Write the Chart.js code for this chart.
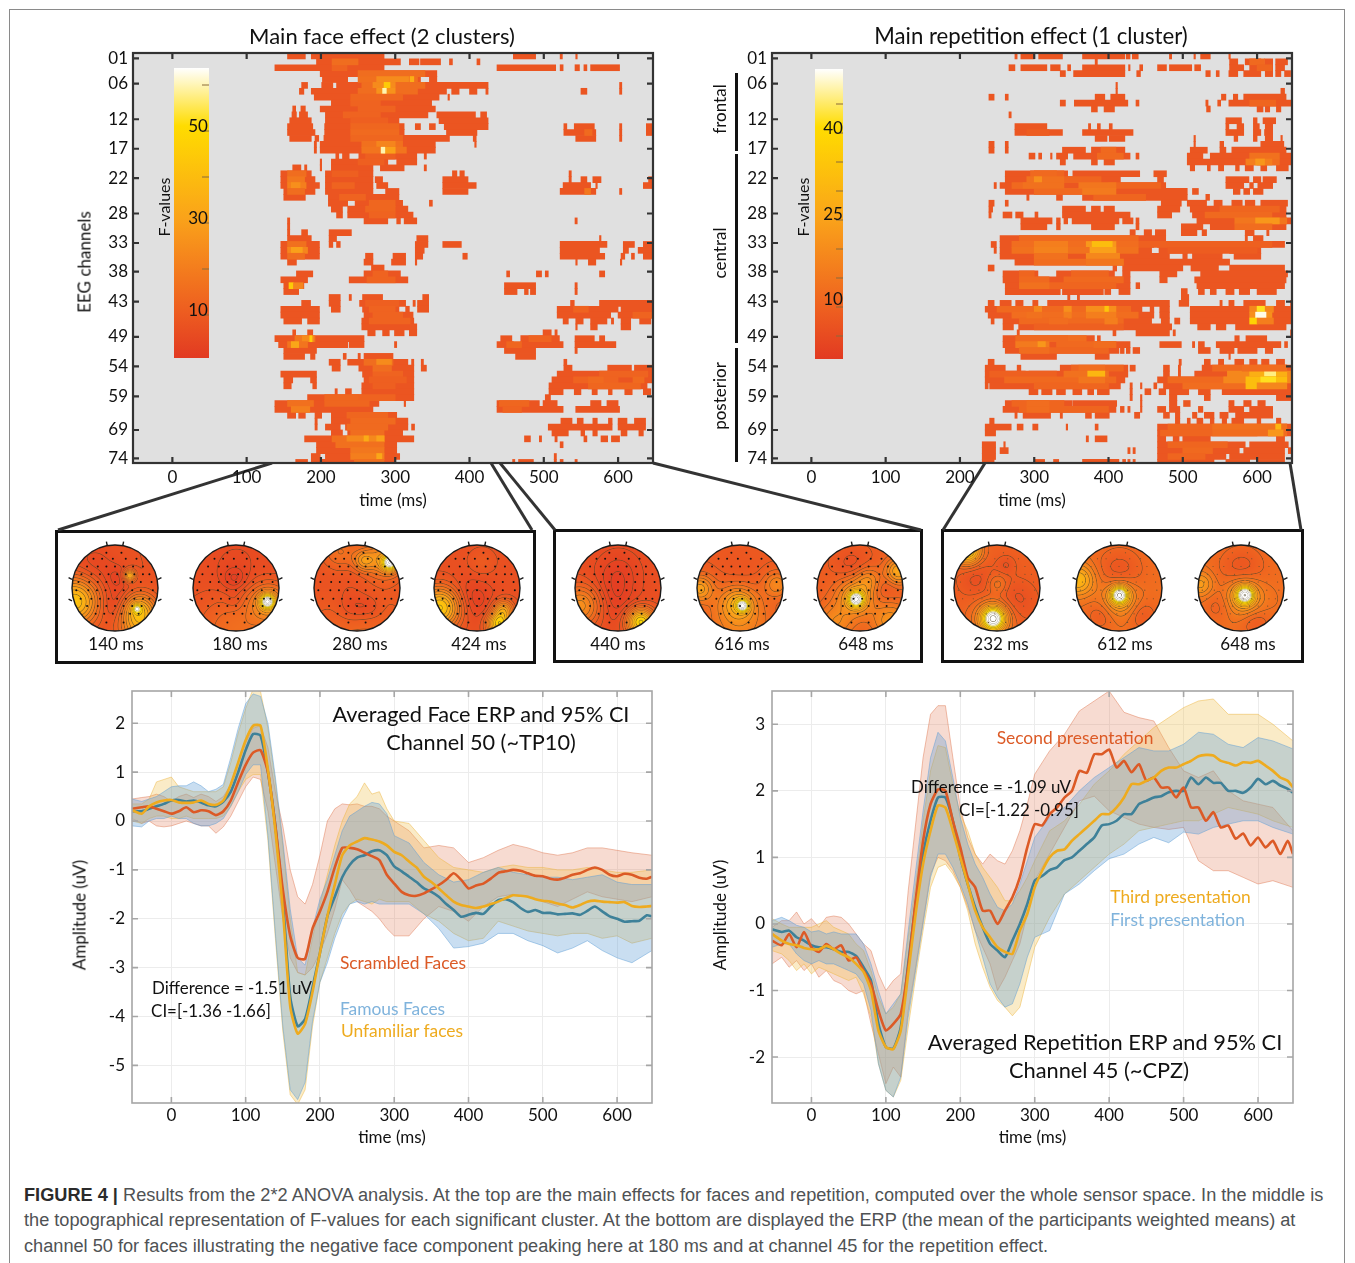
<!DOCTYPE html>
<html>
<head>
<meta charset="utf-8">
<title>Figure 4</title>
<script src="https://cdn.jsdelivr.net/npm/chart.js@4/dist/chart.umd.min.js"></script>
<style>
  html, body { margin: 0; padding: 0; background: #fff; }
  #page { position: relative; width: 1355px; height: 1263px; overflow: hidden; font-family: Lato, sans-serif; color: #111; }
  #page canvas { position: absolute; }
  .txt { position: absolute; white-space: nowrap; transform: translate(-50%, -50%); }
  .box { position: absolute; border: 3px solid #111; box-sizing: border-box; }
  .cap { position: absolute; left: 24px; white-space: nowrap; font-family: "Liberation Sans", Arial, sans-serif; font-size: 18.18px; color: #4f5254; }
  .cap b { color: #2b2b2b; }
  #frame { position: absolute; left: 9px; top: 9px; width: 1336px; height: 1270px; border: 1px solid #8a8a8a; box-sizing: border-box; }
  #links { position: absolute; left: 0; top: 0; }
</style>
</head>
<body>
<div id="page">
  <div id="frame"></div>
  <div class="box" style="left:55px;top:530px;width:481px;height:134px"></div>
  <div class="box" style="left:553px;top:529px;width:370px;height:134px"></div>
  <div class="box" style="left:941px;top:529px;width:363px;height:134px"></div>
  <svg id="links" width="1355" height="540">
    <g stroke="#333" stroke-width="3" fill="none">
      <line x1="272" y1="463" x2="58" y2="530"/>
      <line x1="491" y1="463" x2="532" y2="530"/>
      <line x1="500" y1="463" x2="555" y2="530"/>
      <line x1="653" y1="463" x2="921" y2="530"/>
      <line x1="985" y1="463" x2="943" y2="530"/>
      <line x1="1290" y1="463" x2="1301" y2="530"/>
    </g>
  </svg>
  <div class="cap" style="top:1185px"><b>FIGURE 4 |</b> Results from the 2*2 ANOVA analysis. At the top are the main effects for faces and repetition, computed over the whole sensor space. In the middle is</div>
  <div class="cap" style="top:1210px">the topographical representation of F-values for each significant cluster. At the bottom are displayed the ERP (the mean of the participants weighted means) at</div>
  <div class="cap" style="top:1236px">channel 50 for faces illustrating the negative face component peaking here at 180 ms and at channel 45 for the repetition effect.</div>
</div>

<script>
// axis ticks
const timeTicks = [0, 100, 200, 300, 400, 500, 600];
const channelLabels = ['01', '06', '12', '17', '22', '28', '33', '38', '43', '49', '54', '59', '69', '74'];
const channelTicks = [1.4, 5.7, 11.75, 16.75, 21.75, 27.75, 32.75, 37.6, 42.7, 48.7, 53.7, 58.8, 64.5, 69.3];
const faceAmpTicks = [-5, -4, -3, -2, -1, 0, 1, 2];
const repAmpTicks = [-2, -1, 0, 1, 2, 3];

// significant runs per EEG row, [start ms, end ms]
const faceRows = [
  [[155,179],[187,285],[459,489],[522,525],[543,545]],
  [[194,307],[319,332],[334,361],[373,377],[410,414]],
  [[138,285],[437,516],[522,526],[542,548],[554,558],[563,602]],
  [[199,356]],
  [[202,236],[251,334],[346,356]],
  [[174,182],[201,216],[221,425],[602,605]],
  [[171,177],[187,369],[376,386],[400,410],[422,425],[550,558],[602,605]],
  [[191,359],[371,373]],
  [[214,349]],
  [[162,166],[173,179],[199,354]],
  [[161,167],[171,182],[206,344],[356,408],[415,423]],
  [[158,187],[206,305],[359,425]],
  [[155,189],[205,312],[327,334],[346,354],[366,425],[527,531],[541,568],[602,605],[638,649]],
  [[155,192],[205,312],[369,410],[527,570],[602,605],[638,649]],
  [[158,187],[192,197],[204,373],[405,409],[543,570],[602,605]],
  [[191,194],[199,354],[407,409]],
  [[191,194],[199,354]],
  [[220,224],[229,238],[251,329],[339,342]],
  [[199,201],[214,290],[302,329]],
  [[162,173],[178,181],[199,201],[214,270],[280,312],[339,342]],
  [[146,187],[206,270],[377,383],[387,393],[534,537]],
  [[146,192],[206,270],[273,283],[364,398],[534,537],[550,558],[566,577],[641,649]],
  [[146,198],[206,270],[275,290],[364,409],[526,563],[570,572],[634,649]],
  [[150,192],[206,270],[287,305],[364,398],[522,570],[602,605]],
  [[150,179],[210,305]],
  [[210,236],[246,310],[346,350]],
  [[214,229],[236,317]],
  [[221,229],[236,324]],
  [[155,158],[258,290],[302,307],[312,329],[542,545]],
  [[155,158]],
  [[155,158],[174,182],[211,241]],
  [[155,187],[211,221],[329,344],[575,577]],
  [[146,198],[211,216],[221,226],[327,344],[364,389],[522,585],[607,622],[634,649]],
  [[146,198],[327,339],[522,575],[607,614],[627,646]],
  [[146,198],[260,270],[297,314],[327,337],[391,397],[522,582],[604,609],[618,622],[634,649]],
  [[155,167],[258,270],[295,314],[327,329],[543,545],[560,570],[603,605]],
  [[268,285]],
  [[167,189],[258,307],[450,454],[490,497],[502,506],[575,582]],
  [[146,182],[238,317]],
  [[150,177],[447,489],[542,545]],
  [[150,170],[447,464],[474,479],[482,489],[542,545]],
  [[211,226],[238,241],[256,283],[337,345]],
  [[174,186],[211,226],[252,314],[324,327],[330,345],[536,541],[575,649]],
  [[146,198],[214,226],[256,305],[314,319],[330,345],[518,600],[604,649]],
  [[146,198],[258,324],[518,590],[600,649]],
  [[150,174],[182,198],[255,325],[526,533],[543,553],[563,585],[591,594],[604,617],[629,644],[646,649]],
  [[255,329],[543,545],[563,572],[604,617]],
  [[162,166],[182,189],[263,273],[283,292],[299,312],[319,329],[499,510],[515,518]],
  [[138,258],[442,457],[469,521],[542,568],[575,582]],
  [[143,236],[238,258],[299,302],[437,459],[469,526],[542,597]],
  [[150,194],[447,489],[542,545]],
  [[150,178],[186,192],[230,234],[250,253],[258,297],[462,489]],
  [[211,226],[236,317],[322,325],[335,338],[527,531]],
  [[215,226],[251,325],[335,342],[527,538],[586,618],[622,649]],
  [[146,194],[256,325],[518,649]],
  [[150,162],[186,194],[258,325],[511,649]],
  [[150,160],[189,194],[255,325],[507,639]],
  [[219,222],[233,241],[255,325],[507,526],[541,550],[565,572],[587,592],[609,619],[634,644]],
  [[182,325],[502,509]],
  [[138,278],[312,314],[437,494],[499,518],[563,577],[585,600]],
  [[138,270],[437,526],[543,602]],
  [[155,166],[170,179],[192,201],[214,302]],
  [[192,195],[214,317],[523,538],[545,553],[566,572],[587,592],[600,612],[622,637],[646,649]],
  [[192,195],[206,226],[233,317],[322,326],[506,592],[600,637],[646,649]],
  [[214,229],[236,310],[511,533],[550,555],[566,572],[604,612],[628,634]],
  [[178,325],[474,482],[494,497],[515,518],[554,558],[577,586],[591,602]],
  [[194,302],[522,526]],
  [[194,302]],
  [[187,199],[206,306],[514,517]],
  [[166,182],[187,300],[458,461],[466,486],[514,517],[522,526],[542,545]]
];

const repRows = [
  [[274,277],[282,300],[306,338],[365,422],[424,429],[432,440],[482,485],[515,517],[524,537],[562,564]],
  [[382,385],[563,574],[584,605],[610,621],[625,641]],
  [[266,274],[282,317],[322,335],[345,349],[365,422],[427,429],[442,446],[466,478],[482,512],[516,524],[563,582],[590,621],[625,637]],
  [[335,342],[353,422],[438,443],[531,537],[545,549],[562,574],[582,605],[611,621],[625,632],[637,645]],
  [],
  [[410,412]],
  [[410,412],[632,637]],
  [[239,246],[261,265],[382,395],[403,422],[552,558],[568,574],[582,639]],
  [[335,342],[354,426],[437,441],[531,534],[547,551],[562,648]],
  [[377,385],[394,408],[532,537],[600,608],[611,617],[626,632]],
  [[266,269]],
  [[558,579],[595,600],[608,625]],
  [[274,317],[373,376],[385,389],[401,405],[558,562],[573,582],[595,603],[611,621]],
  [[274,338],[365,433],[558,582],[595,605],[610,621]],
  [[382,398],[401,422],[515,517],[569,574],[595,600],[611,621],[632,634]],
  [[239,246],[261,265],[515,517],[550,555],[605,636]],
  [[239,246],[261,265],[338,369],[377,422],[510,533],[550,558],[566,639]],
  [[293,301],[306,310],[322,324],[330,345],[353,429],[437,441],[506,527],[537,648]],
  [[335,342],[377,385],[394,408],[506,648]],
  [[510,516],[533,537],[548,555],[571,576],[584,595],[605,613],[626,642]],
  [[261,345],[352,442],[461,478]],
  [[261,416],[466,474],[558,589],[595,605],[608,626]],
  [[246,249],[254,477],[558,582],[590,595],[601,621]],
  [[261,506],[513,521],[568,577],[582,590],[595,608]],
  [[290,293],[330,338],[365,506],[531,536]],
  [[239,246],[261,265],[471,498],[506,532],[542,553],[566,580],[584,597],[605,641]],
  [[239,244],[338,369],[377,389],[394,408],[466,496],[510,639]],
  [[239,242],[258,270],[275,285],[301,305],[338,429],[466,485],[513,639]],
  [[282,324],[330,335],[340,345],[351,414],[419,433],[437,441],[519,648]],
  [[282,317],[330,335],[377,408],[437,441],[498,527],[537,639]],
  [[429,436],[448,458],[463,477],[498,519],[526,532],[584,596],[613,616]],
  [[254,477],[584,587],[595,608]],
  [[242,249],[254,461],[466,479],[513,537],[574,637]],
  [[246,249],[254,458],[468,506],[513,553],[563,605]],
  [[254,482],[500,506],[513,553],[569,605]],
  [[274,563]],
  [[238,246],[406,411],[419,500],[511,548],[563,637]],
  [[258,305],[330,408],[419,429],[469,492],[524,641]],
  [[258,429],[469,479],[516,639]],
  [[261,429],[437,442],[519,637]],
  [[261,335],[338,393],[395,403],[414,429],[498,506],[521,529],[537,545],[558,569],[576,590],[600,626]],
  [[345,348],[358,361],[498,508]],
  [[238,246],[254,269],[275,285],[298,305],[318,482],[495,508],[550,553],[562,569],[582,611],[626,637],[645,648]],
  [[234,445],[456,461],[469,482],[510,648]],
  [[238,461],[469,482],[510,648]],
  [[242,246],[258,458],[471,482],[489,496],[510,648]],
  [[258,272],[279,485],[520,537],[545,558],[571,639]],
  [[277,280],[406,410],[437,482],[487,490],[645,648]],
  [[258,381],[385,389],[570,576],[585,613]],
  [[258,429],[469,498],[513,516],[521,529],[545,632],[637,641]],
  [[261,414],[416,421],[424,429],[433,442],[521,537],[550,569],[574,600],[611,621]],
  [[282,330],[382,401],[562,564]],
  [[238,246],[495,498],[529,537],[548,555],[570,582],[590,600],[606,616],[626,637]],
  [[234,261],[277,282],[335,426],[429,436],[474,482],[494,497],[526,648]],
  [[234,288],[293,426],[474,482],[494,497],[516,648]],
  [[234,422],[466,648]],
  [[234,238],[240,416],[429,432],[443,445],[461,465],[474,648]],
  [[293,305],[310,324],[330,342],[352,364],[372,380],[385,401],[429,432],[449,457],[468,477],[482,508],[521,537],[553,648]],
  [[429,432],[443,445],[482,492],[529,537],[626,648]],
  [[261,351],[352,411],[443,445],[482,492],[501,510],[562,569],[582,592],[601,611]],
  [[258,410],[416,421],[426,429],[443,445],[466,477],[482,496],[521,527],[562,582],[590,621]],
  [[274,277],[285,322],[335,338],[369,377],[382,401],[435,442],[474,482],[490,496],[513,519],[529,542],[550,561],[571,621]],
  [[240,246],[490,496],[506,510],[519,527],[537,542],[553,559],[566,582],[600,605],[626,632]],
  [[234,269],[277,285],[298,305],[343,345],[382,386],[466,648]],
  [[234,248],[466,648]],
  [[370,373],[382,398],[466,477],[487,495],[500,537],[626,637]],
  [[230,248],[259,261],[466,584],[590,642]],
  [[230,248],[254,265],[426,429],[433,436],[466,576],[582,637],[642,648]],
  [[230,248],[466,558],[563,637]],
  [[230,246],[301,314],[326,333],[365,414],[419,423],[426,429],[433,436],[466,542],[558,590],[600,637]]
];

// stronger patches on top of the runs: [row, start ms, end ms, F]
const faceHot = [
  [3,215,235,12],[9,240,280,12],[10,250,300,12],[11,230,280,12],[12,240,290,11],[18,260,300,11],[19,250,285,11],[21,215,250,11],
  [23,215,245,12],[25,225,260,12],[26,265,300,13],[27,260,300,13],[28,265,300,12],[39,262,300,12],[38,270,290,12],[43,260,305,11],
  [44,265,300,12],[45,270,310,12],[46,265,320,12],[55,270,310,12],[56,265,315,11],[57,270,300,11],[59,240,300,12],[62,235,290,13],
  [63,240,300,14],[55,575,640,12],[56,540,600,12],[57,560,630,13],[44,540,560,12],[45,620,648,12],[49,480,510,12],[50,450,470,13],
  [60,440,480,13],[61,445,470,12],
  [2,215,250,15],[4,250,340,15],[5,250,330,16],[5,275,318,24],[5,320,325,35],[6,255,340,15],[6,270,300,24],[6,285,293,45],
  [7,250,330,15],[7,275,300,26],[7,283,288,60],[8,240,310,13],[13,240,305,13],[14,240,305,14],[15,240,310,13],
  [16,255,310,16],[16,275,300,22],[17,255,315,17],[17,283,300,30],[17,281,286,60],[21,155,180,15],[22,155,178,18],
  [23,155,180,20],[23,160,172,25],[24,155,178,15],[33,155,180,16],[34,155,182,22],[34,160,175,30],[35,155,178,15],
  [40,157,163,45],[40,163,176,22],[49,165,192,18],[49,175,190,24],[49,185,188,46],[50,155,182,17],[50,160,170,32],
  [53,258,297,15],[53,275,295,24],[54,270,295,15],[60,155,190,16],[61,160,185,20],[59,205,250,13],[60,205,265,13],
  [64,235,290,14],[65,240,285,15],[66,215,285,16],[66,235,285,23],[66,258,264,34],[66,275,285,30],[67,220,285,16],
  [68,240,285,18],[69,240,285,20],[69,275,282,32],[70,245,285,16],[14,555,565,14],[24,555,563,18],[56,560,580,14],[56,620,635,14]
];
const repHot = [
  [2,590,610,11],[3,600,620,10],[9,590,625,10],[14,290,320,8],[17,390,410,11],[18,385,420,11],[19,600,630,12],[21,300,340,10],
  [22,340,390,10],[23,270,300,11],[23,400,470,10],[24,300,400,11],[25,380,450,10],[27,550,630,10],[28,530,620,11],[32,280,440,11],
  [36,300,420,12],[38,280,300,10],[38,350,400,10],[39,340,420,11],[40,300,410,10],[44,250,430,11],[45,270,440,12],[46,280,420,11],
  [47,300,420,9],[49,280,370,12],[50,330,410,11],[51,290,400,10],[54,350,420,10],[55,240,330,9],[56,260,410,11],[57,300,400,10],
  [56,480,560,11],[57,500,640,12],[54,540,640,11],[60,270,340,10],[61,280,400,10],[64,480,640,10],[65,470,600,10],[33,440,620,9],[34,480,600,8],
  [21,295,330,11],[22,290,340,13],[22,300,310,20],[23,285,340,13],[23,360,410,14],[24,365,410,15],[33,270,440,12],[33,300,345,16],
  [33,370,410,22],[33,378,405,32],[34,270,440,13],[34,300,345,17],[34,375,410,24],[35,300,345,13],[35,370,415,18],[36,370,420,14],
  [39,280,320,11],[40,280,320,13],[18,590,630,13],[19,585,620,16],[19,598,610,22],[29,570,640,14],[29,598,630,22],[30,570,620,12],
  [44,300,310,18],[44,340,350,20],[44,370,410,20],[44,395,400,34],[45,290,310,13],[45,340,350,16],[45,370,410,16],[46,320,345,12],
  [46,395,412,16],[44,590,622,18],[44,600,610,42],[45,590,620,20],[45,598,612,50],[46,590,600,38],[46,600,622,16],
  [49,275,345,11],[50,275,320,15],[50,305,315,22],[51,280,320,12],[50,380,410,12],[54,360,395,12],
  [55,340,400,13],[55,372,395,30],[56,360,395,14],[55,560,647,18],[55,590,640,28],[55,610,625,46],[56,555,647,18],[56,585,640,32],
  [56,605,625,42],[57,585,600,32],[57,600,640,18],[54,580,640,12],[60,290,320,12],[61,290,320,12],[64,540,640,13],
  [64,625,632,30],[65,540,640,12],[65,615,635,22],[67,480,560,10],[68,500,540,11],[69,480,530,10]
];

// ERP means, sampled at meanTimes
const meanTimes = [-53,-40,-30,-20,-10,0,10,20,30,40, 50,60,70,80,90,100,110,120,130,140, 150,160,170,180,190,200,210,220,230,240,
  250,260,270,280,290,300,310,320,330,340, 350,360,370,380,390,400,410,420,430,440, 450,460,470,480,490,500,510,520,530,540,
  550,560,570,580,590,600,610,620,630,640, 647];
const famousMean = [.2,.2,.25,.3,.35,.42,.43,.4,.42,.38, .32,.3,.4,.6,1,1.45,1.78,1.75,1,-.1, -1.6,-3.6,-4.2,-4.05,-3.4,-2.7,-1.95,-1.55,-1.15,-.9,
  -.75,-.7,-.62,-.6,-.7,-.93,-1.03,-1.14,-1.25,-1.38, -1.45,-1.55,-1.7,-1.82,-1.96,-1.92,-1.88,-1.9,-1.75,-1.62, -1.6,-1.66,-1.78,-1.86,-1.82,-1.88,-1.88,-1.91,-1.9,-1.89,
  -1.92,-1.84,-1.75,-1.85,-1.95,-2,-2.06,-2.05,-2.04,-1.93, -1.95];
const unfamiliarMean = [.22,.15,.3,.38,.42,.43,.38,.37,.38,.42, .35,.33,.42,.75,1.2,1.65,1.95,1.95,1.05,-.2, -1.8,-3.8,-4.35,-4.15,-3.5,-2.7,-1.95,-1.3,-.7,-.5,
  -.42,-.35,-.38,-.42,-.5,-.63,-.7,-.83,-.95,-1.14, -1.25,-1.38,-1.52,-1.65,-1.72,-1.75,-1.78,-1.75,-1.7,-1.65, -1.58,-1.52,-1.53,-1.55,-1.6,-1.63,-1.65,-1.69,-1.72,-1.77,
  -1.72,-1.65,-1.63,-1.65,-1.66,-1.67,-1.66,-1.74,-1.76,-1.75, -1.74];
const scrambledMean = [.25,.28,.3,.25,.2,.15,.2,.28,.18,.22, .2,.12,.2,.42,.8,1.15,1.4,1.45,1,-.1, -1.4,-2.35,-2.8,-2.82,-2.2,-1.85,-1.45,-.95,-.55,-.55,
  -.58,-.65,-.72,-.8,-1.1,-1.28,-1.45,-1.52,-1.53,-1.48, -1.4,-1.31,-1.2,-1.07,-1.2,-1.38,-1.32,-1.28,-1.18,-1.06, -1.03,-1,-1.02,-1.07,-1.12,-1.13,-1.18,-1.2,-1.16,-1.1,
  -1.07,-1,-.95,-1,-1.1,-1.13,-1.08,-1.1,-1.16,-1.18, -1.14];
const firstMean = [-.08,-.12,-.1,-.2,-.25,-.32,-.35,-.35,-.38,-.42, -.42,-.48,-.65,-.85,-1.5,-1.85,-1.87,-1.55,-.6,.3, 1.05,1.55,1.9,1.9,1.55,1,.6,.25,-.05,-.3,
  -.4,-.5,-.25,0,.3,.65,.72,.81,.85,.96, 1,1.1,1.2,1.3,1.48,1.5,1.55,1.65,1.65,1.8, 1.85,1.9,1.92,1.98,2,2,2.2,2.1,2.2,2.12,
  2.12,2,2,1.97,2.05,2.18,2.1,2.15,2.08,2.03, 1.97];
const thirdMean = [-.15,-.25,-.3,-.32,-.36,-.38,-.38,-.33,-.38,-.45, -.5,-.6,-.72,-1,-1.6,-1.85,-1.88,-1.6,-.75,.15, .9,1.4,1.78,1.75,1.4,1,.6,.2,-.05,-.2,
  -.35,-.42,-.45,-.1,.15,.55,.8,1,1.1,1.12, 1.25,1.35,1.45,1.55,1.65,1.65,1.75,1.9,2.1,2.1, 2.15,2.2,2.3,2.35,2.35,2.4,2.45,2.52,2.54,2.53,
  2.45,2.42,2.38,2.43,2.42,2.45,2.38,2.3,2.2,2.15, 2.05];
const secondMean = [-.25,-.32,-.15,-.35,-.12,-.35,-.42,-.3,-.38,-.32, -.55,-.5,-.7,-.9,-1.3,-1.6,-1.5,-1.35,-.65,.35, 1.25,1.8,2.02,2,1.55,1.15,.7,.55,.2,.2,
  0,.2,.4,.7,1.15,1.5,1.48,1.65,1.75,1.9, 2,2.3,2.27,2.55,2.55,2.62,2.35,2.45,2.28,2.4, 2.15,2.2,2.05,2.05,1.9,2.05,1.75,1.75,1.55,1.68,
  1.45,1.48,1.28,1.36,1.18,1.3,1.15,1.25,1.05,1.25, 1.05];

// 95% CI edges, sampled at ciTimes
const ciTimes = [-53,-40,-30,-20,-10,0,10,20,30,40, 50,60,70,80,90,100,110,120,130,140, 150,160,170,180,190,200,210,220,230,240,
  250,260,270,280,290,300, 320,340,360,380,400,420,440,460,480,500,520,540,560,580,600,620, 647];
const famousUpper = [.45,.4,.45,.5,.6,.7,.72,.72,.8,.72, .6,.65,.75,1.3,1.9,2.4,2.6,2.55,2,.9, -.4,-1.8,-2.8,-2.95,-2.2,-1.6,-1.2,-.7,-.2,.1,
  .2,.3,.38,.35,.15,-.3, -.45,-.85,-1.1,-1.25,-1.2,-1.05,-.95,-1.05,-1.1,-1.15,-1.15,-1.2,-1.15,-1.1,-1.25,-1.3, -1.3];
const famousLower = [-.1,-.12,0,.05,.05,.1,.05,.05,-.05,-.1, -.1,-.05,.05,.3,.6,.95,1.15,1.15,-.3,-2.3, -4.2,-5.5,-5.7,-5.35,-4.1,-3.3,-2.9,-2.4,-2,-1.7,
  -1.65,-1.7,-1.65,-1.7,-1.7,-1.7, -1.7,-1.9,-2.2,-2.6,-2.57,-2.5,-2.3,-2.3,-2.45,-2.55,-2.7,-2.6,-2.45,-2.65,-2.8,-2.9, -2.65];
const unfamiliarUpper = [.35,.35,.45,.8,.85,.9,.7,.65,.6,.6, .6,.6,.7,1.2,1.8,2.3,2.7,2.65,1.9,.8, -.5,-2,-3.1,-3.15,-2.4,-1.7,-1.1,-.5,0,.35,
  .5,.78,.55,.6,.25,0, -.05,-.4,-.75,-.95,-1,-1.05,-.95,-.9,-.95,-.95,-1,-1,-.95,-1,-1.05,-1.05, -1];
const unfamiliarLower = [0,-.05,.05,.1,.1,.05,.05,.1,.05,.05, .05,.05,.1,.3,.6,.85,.95,.95,-.4,-2.4, -4.3,-5.6,-5.8,-5.5,-4.2,-3.3,-2.8,-2.3,-1.9,-1.7,
  -1.6,-1.65,-1.7,-1.6,-1.65,-1.65, -1.65,-1.9,-2.05,-2.3,-2.45,-2.4,-2.05,-2.15,-2.25,-2.3,-2.35,-2.3,-2.3,-2.4,-2.35,-2.5, -2.4];
const scrambledUpper = [.45,.48,.5,.55,.5,.4,.5,.55,.48,.55, .5,.4,.5,.75,1.2,1.6,1.9,1.95,1.5,.6, -.1,-1,-1.55,-1.7,-1.3,-.7,0,.25,.35,.33,
  .35,.3,.3,.25,.1,0, -.2,-.55,-.5,-.55,-.85,-.75,-.6,-.48,-.55,-.65,-.7,-.65,-.55,-.55,-.6,-.65, -.7];
const scrambledLower = [.05,-.05,0,-.1,-.12,-.1,-.05,0,-.05,-.1, -.1,-.25,-.12,.1,.4,.7,.9,.85,.2,-.9, -2,-2.8,-3.1,-3.15,-3,-2.7,-2.3,-1.8,-1.2,-1.4,
  -1.65,-1.75,-1.85,-2,-2.2,-2.35, -2.35,-2,-1.75,-1.85,-2.05,-1.75,-1.55,-1.5,-1.55,-1.65,-1.75,-1.6,-1.45,-1.55,-1.6,-1.65, -1.55];
const firstUpper = [.05,.1,.05,-.02,-.05,-.12,-.1,-.15,-.12,-.15, -.15,-.15,-.3,-.6,-1,-1.35,-1.2,-1.05,-.1,.8, 1.7,2.5,2.88,2.75,2.2,1.6,1.2,.9,.7,.45,
  .25,.2,.3,.6,.95,1.3, 1.6,1.75,2,2.2,2.35,2.5,2.65,2.6,2.6,2.7,2.88,2.85,2.7,2.65,2.8,2.75, 2.63];
const firstLower = [-.35,-.3,-.3,-.45,-.55,-.6,-.55,-.6,-.6,-.65, -.7,-.75,-.9,-1.3,-2.1,-2.5,-2.6,-2.3,-1.4,-.7, 0,.7,1.05,1.05,.85,.6,.3,-.1,-.5,-.9,
  -1.1,-1.25,-1.2,-.9,-.5,-.2, -.1,.45,.6,.8,.98,1.05,1.2,1.3,1.22,1.38,1.35,1.45,1.5,1.55,1.55,1.45, 1.35];
const thirdUpper = [.08,0,-.05,-.05,-.05,-.05,0,.05,-.05,-.1, -.15,-.3,-.4,-.7,-1.1,-1.35,-1.25,-1.05,-.2,.6, 1.55,2.3,2.68,2.65,2.1,1.65,1.4,1.05,.85,.7,
  .55,.35,.35,.5,.7,.95, 1.4,1.55,1.8,2.1,2.3,2.55,2.75,2.95,3.1,3.25,3.35,3.38,3.15,3.15,3.15,3, 2.75];
const thirdLower = [-.4,-.45,-.55,-.7,-.6,-.75,-.65,-.7,-.75,-.8, -.85,-.8,-1.05,-1.4,-2.1,-2.5,-2.6,-2.35,-1.55,-.8, -.1,.55,.85,.9,.75,.55,.2,-.3,-.65,-.95,
  -1.15,-1.25,-1.38,-1.25,-.8,-.35, .1,.45,.65,.85,1.05,1.2,1.4,1.45,1.5,1.55,1.55,1.65,1.75,1.7,1.65,1.55, 1.45];
const secondUpper = [-.05,.05,.05,.18,0,.08,-.05,.1,.12,.1, 0,-.15,-.3,-.4,-.75,-1,-.85,-.75,.5,1.5, 2.5,3.15,3.28,3.28,2.5,1.75,1.3,1.05,.9,1.05,
  .95,.9,1.1,1.4,1.8,2.25, 2.6,2.85,3.2,3.35,3.5,3.18,3.1,3.05,2.65,2.3,2.2,2.3,2,1.85,1.8,1.75, 1.4];
const secondLower = [-.6,-.5,-.65,-.55,-.7,-.6,-.8,-.7,-.85,-.9, -1,-1.05,-1,-1.5,-1.95,-2.4,-2.15,-2.3,-1.3,-.65, .05,.75,1,.95,.8,.55,.25,-.1,-.35,-.6,
  -1,-.8,-.55,-.3,.15,.65, 1.05,1.45,1.85,1.92,1.7,1.6,1.5,1.45,1.42,1.45,.95,.8,.8,.7,.6,.65, .55];

// topographic maps
const topoTimes = ['140 ms', '180 ms', '280 ms', '424 ms', '440 ms', '616 ms', '648 ms', '232 ms', '612 ms', '648 ms'];
const topoBase = [.11, .1, .11, .1, .1, .14, .16, .17, .24, .24];
// bumps of each map: [x, y, width, height], head radius = 1
const topoBumps = [
  [[-.95,-.3,.35,.55],[.55,-.5,.25,.4],[.5,-.47,.07,.45],[.33,.3,.09,.42],[.55,-.9,.3,.3],[0,-.35,.3,-.07],[.05,.25,.2,-.05],[-.5,.5,.4,-.05]],
  [[.72,-.3,.11,.85],[.75,-.35,.3,.3],[0,-.95,.6,.14],[-.05,.2,.22,-.07],[-.05,-.3,.15,-.04],[0,.5,.7,-.03]],
  [[.75,.6,.12,.85],[.15,.65,.16,.25],[.6,.7,.3,.3],[-.4,.85,.3,.15],[0,-.95,.8,.1],[-.1,-.45,.25,-.08],[.3,-.45,.2,-.06],[-.2,.2,.6,-.04]],
  [[-.88,-.45,.3,.6],[.5,-.82,.17,.65],[.6,-.5,.15,.35],[.1,.6,.2,.05],[-.1,-.25,.35,-.07]],
  [[.52,-.78,.2,.7],[-.88,-.4,.3,.3],[0,.4,.4,-.06],[-.1,-.3,.4,-.06]],
  [[.05,-.4,.09,.75],[-.05,-.35,.25,.28],[-.95,0,.2,.3],[0,-.3,.6,.14],[.85,.1,.2,.2],[0,-.95,.5,.12],[-.1,.3,.4,-.06],[.3,-.1,.5,-.05]],
  [[-.1,-.25,.12,.8],[-.1,-.2,.3,.32],[.2,.2,.2,.18],[.88,.4,.2,.35],[-.6,-.8,.3,.2],[.7,-.75,.3,.25],[-.2,.55,.3,-.07],[.5,0,.25,-.06]],
  [[-.1,-.7,.17,.85],[-.1,-.7,.3,.28],[-.7,.88,.2,.6],[0,.1,.15,.12],[-.5,.2,.3,-.07],[.4,-.3,.35,-.08],[.2,.55,.15,-.06]],
  [[0,-.15,.13,.85],[0,-.25,.3,.25],[-.95,.2,.25,.35],[0,.4,.4,-.12],[-.4,-.6,.25,-.1],[.5,-.6,.25,-.1]],
  [[.08,-.15,.13,.85],[.05,-.2,.3,.3],[-.95,.1,.2,.22],[0,.45,.4,-.12],[-.5,-.4,.25,-.08],[.3,-.75,.25,-.1]]
];
const sensorX = [-.2,.15, -.5,-.3,-.05,.25,.5, -.65,-.4,-.2,0,.2,.42,.65, -.78,-.55,-.35,-.15,.05,.25,.45,.65,.8,
  -.85,-.6,-.4,-.2,0,.2,.4,.6,.85, -.9,-.62,-.42,-.22,0,.2,.4,.6,.88, -.8,-.55,-.35,-.15,.05,.25,.45,.65,.8,
  -.65,-.4,-.2,0,.2,.4,.62, -.45,-.25,-.05,.15,.35,.55, -.2,.2];
const sensorY = [.82,.82, .68,.68,.68,.68,.68, .5,.5,.5,.5,.5,.5,.5, .32,.32,.32,.32,.32,.32,.32,.32,.32,
  .14,.14,.14,.14,.14,.14,.14,.14,.14, -.05,-.05,-.05,-.05,-.05,-.05,-.05,-.05,-.05, -.25,-.25,-.25,-.25,-.25,-.25,-.25,-.25,-.25,
  -.42,-.42,-.42,-.42,-.42,-.42,-.42, -.6,-.6,-.6,-.6,-.6,-.6, -.8,-.8];

// F colour scale, position 0-1 and colour
const mapStops = [[0, [226,58,34]], [.17, [238,95,32]], [.48, [250,162,26]], [.8, [255,220,0]], [1, [255,255,255]]];

const fontName = 'Lato, sans-serif';
const page = document.getElementById('page');
Chart.defaults.animation = false;
Chart.defaults.responsive = false;
Chart.defaults.font.family = fontName;
Chart.defaults.color = '#111';
Chart.defaults.plugins.legend.display = false;
Chart.defaults.plugins.tooltip.enabled = false;

function mapColor(a) {
  a = Math.max(0, Math.min(1, a));
  let i = 0;
  while (i < mapStops.length - 2 && a > mapStops[i + 1][0]) i++;
  const [p0, c0] = mapStops[i];
  const [p1, c1] = mapStops[i + 1];
  const t = (a - p0) / (p1 - p0);
  return [0, 1, 2].map(k => Math.round(c0[k] + (c1[k] - c0[k]) * t));
}

function addCanvas(left, top, width, height) {
  const c = document.createElement('canvas');
  c.width = width;
  c.height = height;
  c.style.left = left + 'px';
  c.style.top = top + 'px';
  page.appendChild(c);
  return c;
}

function addText(text, x, y, size, extra) {
  const d = document.createElement('div');
  d.className = 'txt';
  d.textContent = text;
  d.style.left = x + 'px';
  d.style.top = y + 'px';
  d.style.fontSize = size + 'px';
  if (extra && extra.color) d.style.color = extra.color;
  if (extra && extra.rotate) d.style.transform = 'translate(-50%, -50%) rotate(-90deg)';
  page.appendChild(d);
}

// plot background, border and the inward MATLAB style ticks
function framePlugin(bg, color, lineWidth, tickLen) {
  return {
    id: 'frame',
    beforeDraw(chart) {
      if (!bg) return;
      const a = chart.chartArea;
      chart.ctx.fillStyle = bg;
      chart.ctx.fillRect(a.left, a.top, a.right - a.left, a.bottom - a.top);
    },
    afterDatasetsDraw(chart) {
      const { ctx, chartArea: a, scales: { x, y } } = chart;
      ctx.save();
      ctx.strokeStyle = color;
      ctx.lineWidth = lineWidth;
      ctx.beginPath();
      x.ticks.forEach(t => {
        const p = x.getPixelForValue(t.value);
        ctx.moveTo(p, a.bottom); ctx.lineTo(p, a.bottom - tickLen);
        ctx.moveTo(p, a.top); ctx.lineTo(p, a.top + tickLen);
      });
      y.ticks.forEach(t => {
        const p = y.getPixelForValue(t.value);
        ctx.moveTo(a.left, p); ctx.lineTo(a.left + tickLen, p);
        ctx.moveTo(a.right, p); ctx.lineTo(a.right - tickLen, p);
      });
      ctx.stroke();
      ctx.strokeRect(a.left, a.top, a.right - a.left, a.bottom - a.top);
      ctx.restore();
    }
  };
}

// colour bar inside the heatmap, rectangle in canvas pixels
function colorbarPlugin(barLeft, barRight, barTop, barBottom, barTicks) {
  return {
    id: 'colorbar',
    afterDatasetsDraw(chart) {
      const ctx = chart.ctx;
      const g = ctx.createLinearGradient(0, barBottom, 0, barTop);
      mapStops.forEach(s => g.addColorStop(s[0], 'rgb(' + s[1].join(',') + ')'));
      ctx.fillStyle = g;
      ctx.fillRect(barLeft, barTop, barRight - barLeft, barBottom - barTop);
      ctx.strokeStyle = '#8a6a3a';
      ctx.lineWidth = 1;
      ctx.beginPath();
      barTicks.forEach(p => { ctx.moveTo(barRight - 7, p); ctx.lineTo(barRight, p); });
      ctx.stroke();
    }
  };
}

function heatmap(canvas, rows, hot, base, fMax, yWidth, rightPad, barPlugin) {
  const bars = [];
  rows.forEach((runs, i) => runs.forEach(r => bars.push({ x: [r[0], r[1]], y: i + 1, f: base })));
  hot.forEach(h => bars.push({ x: [h[1], h[2]], y: h[0], f: h[3] }));
  return new Chart(canvas, {
    type: 'bar',
    data: {
      datasets: [{
        data: bars,
        barThickness: 6,
        borderWidth: 0,
        borderSkipped: false,
        backgroundColor: c => c.raw ? 'rgb(' + mapColor(c.raw.f / fMax).join(',') + ')' : '#000'
      }]
    },
    options: {
      indexAxis: 'y',
      layout: { padding: { top: 13, right: rightPad, left: 0, bottom: 0 } },
      scales: {
        x: {
          type: 'linear', min: -53, max: 647, offset: false,
          afterBuildTicks: s => { s.ticks = timeTicks.map(v => ({ value: v })); },
          afterFit: s => { s.height = canvas.height - 423; s.paddingLeft = 0; s.paddingRight = 0; },
          grid: { display: false, drawTicks: false },
          border: { display: false },
          ticks: { padding: 4, font: { size: 17 }, maxRotation: 0, autoSkip: false },
          title: { display: true, text: 'time (ms)', font: { size: 17 }, padding: { top: 0, bottom: 1 } }
        },
        y: {
          type: 'linear', min: .5, max: 70.1, reverse: true, offset: false,
          afterBuildTicks: s => { s.ticks = channelTicks.map(v => ({ value: v })); },
          afterFit: s => { s.width = yWidth; s.paddingTop = 0; s.paddingBottom = 0; },
          grid: { display: false, drawTicks: false },
          border: { display: false },
          ticks: { padding: 5, font: { size: 17 }, autoSkip: false, callback: (v, i) => channelLabels[i] }
        }
      }
    },
    plugins: [framePlugin('#e0e0e0', '#333', 2.2, 6), barPlugin]
  });
}

const pairs = (xs, ys) => xs.map((x, i) => ({ x, y: ys[i] }));

function meanLine(values, color) {
  return { data: pairs(meanTimes, values), borderColor: color, borderWidth: 2.6, pointRadius: 0, fill: false, tension: .2 };
}

function ciEdges(upper, lower, line, area) {
  return [
    { data: pairs(ciTimes, upper), borderColor: line, borderWidth: .8, pointRadius: 0, fill: { target: '+1' }, backgroundColor: area },
    { data: pairs(ciTimes, lower), borderColor: line, borderWidth: .8, pointRadius: 0, fill: false }
  ];
}

function erpChart(canvas, datasets, yMin, yMax, yTicks, rightPad) {
  return new Chart(canvas, {
    type: 'line',
    data: { datasets },
    options: {
      layout: { padding: { top: 11, right: rightPad, left: 0, bottom: 0 } },
      scales: {
        x: {
          type: 'linear', min: -53, max: 647,
          afterBuildTicks: s => { s.ticks = timeTicks.map(v => ({ value: v })); },
          afterFit: s => { s.height = canvas.height - 423; s.paddingLeft = 0; s.paddingRight = 0; },
          grid: { color: '#ececec', drawTicks: false },
          border: { display: false },
          ticks: { padding: 2, font: { size: 17 }, maxRotation: 0, autoSkip: false },
          title: { display: true, text: 'time (ms)', font: { size: 17 }, padding: { top: 0, bottom: 2 } }
        },
        y: {
          type: 'linear', min: yMin, max: yMax,
          afterBuildTicks: s => { s.ticks = yTicks.map(v => ({ value: v })); },
          afterFit: s => { s.width = 72; s.paddingTop = 0; s.paddingBottom = 0; },
          grid: { color: '#ececec', drawTicks: false },
          border: { display: false },
          ticks: { padding: 7, font: { size: 17 }, autoSkip: false, callback: v => String(v) }
        }
      }
    },
    plugins: [framePlugin(null, '#a6a6a6', 1.6, 6)]
  });
}

// head map: field of gaussian bumps coloured with the F scale, with contour lines
function headPlugin(index) {
  return {
    id: 'head',
    beforeDatasetsDraw(chart) {
      const { ctx, scales: { x, y } } = chart;
      const cx = x.getPixelForValue(0), cy = y.getPixelForValue(0);
      const r = x.getPixelForValue(1) - cx;
      const size = Math.ceil(2 * r) + 2;
      const off = document.createElement('canvas');
      off.width = off.height = size;
      const octx = off.getContext('2d');
      const img = octx.createImageData(size, size);
      const field = new Float32Array(size * size);
      for (let j = 0; j < size; j++) {
        for (let i = 0; i < size; i++) {
          const u = (i - size / 2) / r, v = -(j - size / 2) / r;
          let f = topoBase[index];
          topoBumps[index].forEach(b => {
            const d2 = (u - b[0]) ** 2 + (v - b[1]) ** 2;
            f += b[3] * Math.exp(-d2 / (2 * b[2] * b[2]));
          });
          field[j * size + i] = Math.max(f, 0);
        }
      }
      // contours are spaced on the square root of the field
      const step = .055;
      const level = (i, j) => Math.sqrt(field[Math.max(0, Math.min(size - 1, j)) * size + Math.max(0, Math.min(size - 1, i))]) / step;
      for (let j = 0; j < size; j++) {
        for (let i = 0; i < size; i++) {
          const c = mapColor(field[j * size + i]);
          const s = level(i, j);
          const g = Math.hypot(level(i + 1, j) - level(i - 1, j), level(i, j + 1) - level(i, j - 1)) / 2;
          const dist = Math.abs(s - Math.round(s));
          const mix = Math.max(0, Math.min(1, 1 - dist / Math.max(g, .001) / .75)) * (g > .5 ? .3 : .6);
          const k = (j * size + i) * 4;
          img.data[k] = c[0] * (1 - mix) + 80 * mix;
          img.data[k + 1] = c[1] * (1 - mix) + 70 * mix;
          img.data[k + 2] = c[2] * (1 - mix) + 40 * mix;
          img.data[k + 3] = 255;
        }
      }
      octx.putImageData(img, 0, 0);
      ctx.save();
      ctx.beginPath();
      ctx.arc(cx, cy, r, 0, Math.PI * 2);
      ctx.clip();
      ctx.drawImage(off, cx - size / 2, cy - size / 2);
      ctx.restore();
      ctx.save();
      ctx.strokeStyle = '#1a1a1a';
      ctx.lineWidth = 1.4;
      ctx.beginPath();
      ctx.arc(cx, cy, r, 0, Math.PI * 2);
      ctx.moveTo(cx - .18 * r, cy - .98 * r); ctx.lineTo(cx - .2 * r, cy - 1.08 * r);
      ctx.moveTo(cx + .18 * r, cy - .98 * r); ctx.lineTo(cx + .2 * r, cy - 1.08 * r);
      [[-1, .2], [1, .2], [-1, -.3], [1, -.3]].forEach(e => {
        ctx.moveTo(cx + e[0] * r, cy - e[1] * r);
        ctx.lineTo(cx + e[0] * 1.08 * r, cy - (e[1] + .04) * r);
      });
      ctx.stroke();
      ctx.restore();
    }
  };
}

function headChart(index, centerX) {
  const canvas = addCanvas(centerX - 50, 538, 100, 100);
  const faint = index >= 7;
  new Chart(canvas, {
    type: 'scatter',
    data: {
      datasets: [{
        data: pairs(sensorX, sensorY),
        pointRadius: faint ? .6 : 1,
        pointBackgroundColor: faint ? '#6b5030' : '#111',
        borderWidth: 0
      }]
    },
    options: {
      layout: { padding: 0, autoPadding: false },
      scales: {
        x: { display: false, min: -1.163, max: 1.163 },
        y: { display: false, min: -1.163, max: 1.163 }
      }
    },
    plugins: [headPlugin(index)]
  });
}

// top heatmaps
heatmap(addCanvas(60, 40, 610, 472), faceRows, faceHot, 8, 64, 73, 17,
  colorbarPlugin(114, 149, 28, 318, [45, 91, 137, 183, 229, 275]));
heatmap(addCanvas(700, 40, 610, 472), repRows, repHot, 6.5, 51, 72, 18,
  colorbarPlugin(115, 143, 29, 319, [64, 93, 122, 151, 180, 209, 238, 267, 296]));

// head maps
[115, 236, 357, 477, 618, 740, 860, 997, 1119, 1241].forEach((x, i) => headChart(i, x));

// ERP charts
erpChart(addCanvas(60, 680, 610, 470), [
  meanLine(unfamiliarMean, '#eeab1f'),
  meanLine(scrambledMean, '#dc5a26'),
  meanLine(famousMean, '#3e8199'),
  ...ciEdges(famousUpper, famousLower, 'rgba(91,155,213,.6)', 'rgba(91,155,213,.33)'),
  ...ciEdges(unfamiliarUpper, unfamiliarLower, 'rgba(235,180,60,.6)', 'rgba(240,190,70,.3)'),
  ...ciEdges(scrambledUpper, scrambledLower, 'rgba(220,110,70,.55)', 'rgba(225,110,70,.25)')
], -5.77, 2.66, faceAmpTicks, 18);
erpChart(addCanvas(700, 680, 610, 470), [
  meanLine(thirdMean, '#eeab1f'),
  meanLine(secondMean, '#dc5a26'),
  meanLine(firstMean, '#3e8199'),
  ...ciEdges(firstUpper, firstLower, 'rgba(91,155,213,.6)', 'rgba(91,155,213,.33)'),
  ...ciEdges(thirdUpper, thirdLower, 'rgba(235,180,60,.6)', 'rgba(240,190,70,.3)'),
  ...ciEdges(secondUpper, secondLower, 'rgba(220,110,70,.55)', 'rgba(225,110,70,.25)')
], -2.69, 3.5, repAmpTicks, 17);

// titles and notes
addText('Main face effect (2 clusters)', 382, 35, 22);
addText('Main repetition effect (1 cluster)', 1031, 35, 22.2);
addText('EEG channels', 84, 262, 17, { rotate: true });
addText('F-values', 163, 207, 16, { rotate: true });
addText('F-values', 802, 207, 16, { rotate: true });
addText('50', 198, 125, 17);
addText('30', 198, 217, 17);
addText('10', 198, 309, 17);
addText('40', 833, 127, 17);
addText('25', 833, 213, 17);
addText('10', 833, 298, 17);
addText('frontal', 719, 109, 17, { rotate: true });
addText('central', 719, 253, 17, { rotate: true });
addText('posterior', 719, 396, 17, { rotate: true });
[[116,643],[240,643],[360,643],[479,643],[618,643],[742,643],[866,643],[1001,643],[1125,643],[1248,643]]
  .forEach((p, i) => addText(topoTimes[i], p[0], p[1], 17));

addText('Amplitude (uV)', 79, 915, 17, { rotate: true });
addText('Amplitude (uV)', 719, 915, 17, { rotate: true });
addText('Averaged Face ERP and 95% CI', 481, 714, 21.7);
addText('Channel 50 (~TP10)', 481, 742, 21.7);
addText('Difference = -1.51 uV', 232, 987, 16.9);
addText('CI=[-1.36 -1.66]', 211, 1010, 16.9);
addText('Scrambled Faces', 403, 962, 17.4, { color: '#dc5a26' });
addText('Famous Faces', 392.5, 1008, 17.4, { color: '#7fb3dc' });
addText('Unfamiliar faces', 402, 1030, 17.4, { color: '#eeab1f' });

addText('Second presentation', 1075, 737, 17.4, { color: '#dc5a26' });
addText('Difference =  -1.09 uV', 991, 786, 16.9);
addText('CI=[-1.22 -0.95]', 1019, 809, 16.9);
addText('Third presentation', 1180.5, 896, 17.4, { color: '#eeab1f' });
addText('First presentation', 1177.5, 919, 17.4, { color: '#7fb3dc' });
addText('Averaged Repetition ERP and 95% CI', 1105, 1041, 21.8);
addText('Channel 45 (~CPZ)', 1099, 1069, 21.8);

// brain region bars beside the right heatmap
const regionBars = [[73, 151], [154, 343], [348, 462]];
regionBars.forEach(b => {
  const d = document.createElement('div');
  d.style.cssText = 'position:absolute;background:#111;width:3px;left:735px;top:' + b[0] + 'px;height:' + (b[1] - b[0]) + 'px';
  page.appendChild(d);
});
</script>
</body>
</html>
